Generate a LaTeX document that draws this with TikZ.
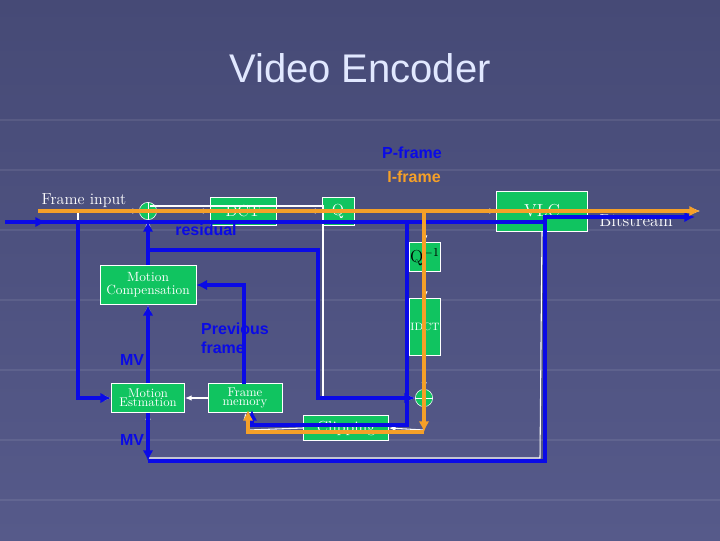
\documentclass[tikz,border=0pt]{standalone}
\usepackage{fontspec}
\newfontfamily\sansf{Liberation Sans}
\usetikzlibrary{arrows.meta}
\definecolor{bg}{RGB}{86,90,138}
\definecolor{bgtop}{RGB}{70,74,118}
\definecolor{bx}{RGB}{16,196,96}
\definecolor{bl}{RGB}{10,10,230}
\definecolor{og}{RGB}{245,160,40}
\definecolor{ttl}{RGB}{225,232,255}
\tikzset{
 blk/.style={draw=white,line width=0.6pt,fill=bx,text=white,font=\rmfamily,inner sep=0pt,align=center},
 wl/.style={draw=white,line width=0.8pt,-{Latex[length=5pt,width=4pt]}},
 bline/.style={draw=bl,line width=3pt,-{Latex[length=8pt,width=8pt]}},
 oline/.style={draw=og,line width=3pt,-{Latex[length=8pt,width=8pt]}},
 blab/.style={text=bl,font=\sansf\bfseries}
}
\begin{document}
\begin{tikzpicture}[x=0.75pt,y=-0.75pt]
\useasboundingbox (0,0) rectangle (720,540);
\shade[top color=bgtop,bottom color=bg] (0,0) rectangle (720,540);
\foreach \y in {120,170,230,300,370,440,500}
  \draw[white,opacity=0.08,line width=2pt] (0,\y) -- (720,\y);
\node[text=ttl,font=\sansf\fontsize{30}{34}\selectfont] (title) at (360,68) {Video Encoder};
\node[blab,font=\sansf\bfseries\fontsize{12}{14}\selectfont] (pf) at (412,153) {P-frame};
\node[text=og,font=\sansf\bfseries\fontsize{12}{14}\selectfont] (if) at (414,177) {I-frame};
% boxes
\node[blk,minimum width=66*0.75pt,minimum height=28*0.75pt,font=\rmfamily\fontsize{12}{14}\selectfont] (dct) at (243,211) {DCT};
\node[blk,minimum width=32*0.75pt,minimum height=28*0.75pt,font=\rmfamily\fontsize{12}{14}\selectfont] (q) at (338,211) {Q};
\node[blk,minimum width=91*0.75pt,minimum height=40*0.75pt,font=\rmfamily\fontsize{13}{14}\selectfont] (vlc) at (542,211) {VLC};
\node[blk,text=black,minimum width=31*0.75pt,minimum height=29*0.75pt,font=\rmfamily\fontsize{13}{14}\selectfont] (qi) at (425,257) {Q$^{\mathrm{-1}}$};
\node[blk,minimum width=31*0.75pt,minimum height=57*0.75pt,font=\rmfamily\fontsize{8}{9}\selectfont] (idct) at (425,327) {IDCT};
\node[blk,minimum width=96*0.75pt,minimum height=39*0.75pt,font=\rmfamily\fontsize{10}{11}\selectfont] (mc) at (148,285) {Motion\\[-1pt]Compensation};
\node[blk,minimum width=73*0.75pt,minimum height=29*0.75pt,font=\rmfamily\fontsize{9.5}{9}\selectfont] (me) at (148,398) {Motion\\[-2pt]Estmation};
\node[blk,minimum width=74*0.75pt,minimum height=29*0.75pt,font=\rmfamily\fontsize{9.5}{9}\selectfont] (fm) at (245,398) {Frame\\[-2pt]memory};
\node[blk,minimum width=85*0.75pt,minimum height=25*0.75pt,font=\rmfamily\fontsize{12}{14}\selectfont] (clip) at (346,428) {Clipping};
\node[circle,draw=white,fill=bx,minimum size=13pt,inner sep=0pt] (s1) at (148,211) {};
\draw[white,line width=0.6pt] (s1.north)--(s1.south) (s1.west)--(s1.east);
\node[circle,draw=white,fill=bx,minimum size=13pt,inner sep=0pt] (s2) at (424,398) {};
\draw[white,line width=0.6pt] (s2.north)--(s2.south) (s2.west)--(s2.east);
% texts
\node[text=white,font=\rmfamily\fontsize{12}{14}\selectfont] (fi) at (84,201) {Frame input};
\node[text=white,font=\rmfamily\fontsize{13}{14}\selectfont] (bs) at (636,221) {Bitstream};
\node[blab,font=\sansf\bfseries\fontsize{12}{14}\selectfont] (res) at (206,230) {residual};
\node[blab,font=\sansf\bfseries\fontsize{12}{14}\selectfont,align=left] (pv) at (235,338) {Previous\\frame};
\node[blab,font=\sansf\bfseries\fontsize{12}{14}\selectfont] (mv1) at (132,360) {MV};
\node[blab,font=\sansf\bfseries\fontsize{12}{14}\selectfont] (mv2) at (132,440) {MV};
\coordinate (in) at (38,211);
\coordinate (out) at (700,211);
% white thin lines
\draw[wl] (in) -- (s1.west);
\draw[wl] (s1.east) -- (dct.west);
\draw[wl] (dct.east) -- (q.west);
\draw[wl] (q.east) -- (vlc.west);
\draw[wl] (vlc.east) -- (out);
\draw[wl] (78,211) -- (78,398) -- (me.west);
\draw[wl] (mc.north) -- (s1.south);
\draw[wl] (me.north) -- (mc.south);
\draw[wl] (fm.west) -- (me.east);
\draw[wl] (424,211) -- (qi.north);
\draw[wl] (qi.south) -- (idct.north);
\draw[wl] (idct.south) -- (s2.north);
\draw[wl] (150,206) -- (323,206) -- (323,398) -- (s2.west);
\draw[wl] (424,430) -- (clip.east);
\draw[wl] (clip.west) -- (248,430) -- (fm.south);
\draw[wl] (vlc.south) -- (540,458) -- (148,458) -- (me.south);
% blue overlays
\draw[bline] (5,222) -- (545,222) -- (545,217) -- (695,217);
\draw[bline] (5,222) -- (46,222);
\draw[bline] (78,222) -- (78,398) -- (me.west);
\draw[bline] (me.north) -- (mc.south);
\draw[bline] (mc.north) -- (148,221);
\draw[bline] (me.south) -- (148,461);
\draw[draw=bl,line width=3pt] (148,461) -- (545,461) -- (545,222);
\draw[bline] (150,250) -- (318,250) -- (318,398) -- (s2.west);
\draw[bline] (244,384) -- (244,285) -- (mc.east);
\draw[bline] (407,222) -- (407,425) -- (252,425) -- (252,410);
% orange overlay
\draw[oline] (38,211) -- (700,211);
\draw[oline] (424,211) -- (424,432);
\draw[oline] (424,432) -- (248,432) -- (248,410);
\end{tikzpicture}
\end{document}
